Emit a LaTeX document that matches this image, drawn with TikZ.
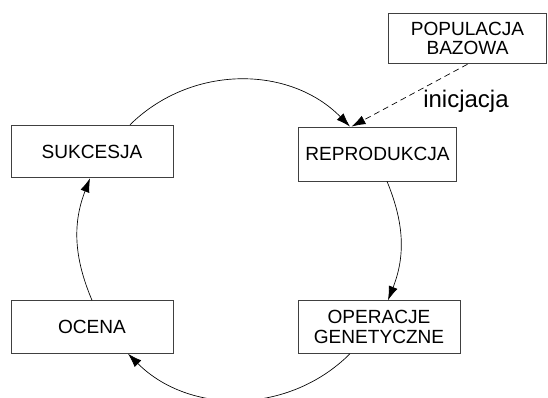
\documentclass[tikz,border=0pt]{standalone}
\usepackage{fontspec}
\setmainfont{Liberation Sans}
\usetikzlibrary{arrows.meta,calc}
\tikzset{
  blok/.style={draw=black!75, line width=0.6pt, minimum width=121.5pt, minimum height=39.5pt,
    align=center, inner sep=0pt, font=\fontsize{14.3}{14.5}\selectfont},
  luk/.style={->, line width=0.5pt},
}
\begin{document}
\begin{tikzpicture}[>={Latex[length=10.5pt,width=7pt]}, x=0.75pt, y=0.75pt]
            \useasboundingbox (0,0) rectangle (548,398);
            % Blocks of the cycle
            \node[blok, minimum width=118pt, minimum height=38pt] (pop) at (467.5,359.5) {POPULACJA\\BAZOWA};
            \node[blok, minimum width=119pt, minimum height=40.5pt] (rep) at (377.5,244) {REPRODUKCJA};
            \node[blok] (suk) at (92,246.5) {SUKCESJA};
            \node[blok] (oce) at (92,71) {OCENA};
            \node[blok] (ope) at (379,71) {OPERACJE\\GENETYCZNE};
            % Arcs of the circle
            \draw[luk] ($(suk.north)+(38,0)$) to[bend left=45] ($(rep.north)+(-27.5,0)$);
            \draw[luk] ($(rep.south)+(9.5,0)$) to[bend left=22] ($(ope.north)+(9,0)$);
            \draw[luk] ($(ope.south)+(-29,0)$) to[bend left=45] ($(oce.south)+(36,0)$);
            \draw[luk] ($(oce.north)+(0,0)$) to[bend left=22] ($(suk.south)+(-2,0)$);
            % Start of the loop
            \draw[luk, dash pattern=on 4.5pt off 3pt] (pop.south) -- ($(rep.north)+(-26,0)$);
            \node[font=\fontsize{18}{20}\selectfont] (ini) at (466,297) {inicjacja};
        \end{tikzpicture}
\end{document}
